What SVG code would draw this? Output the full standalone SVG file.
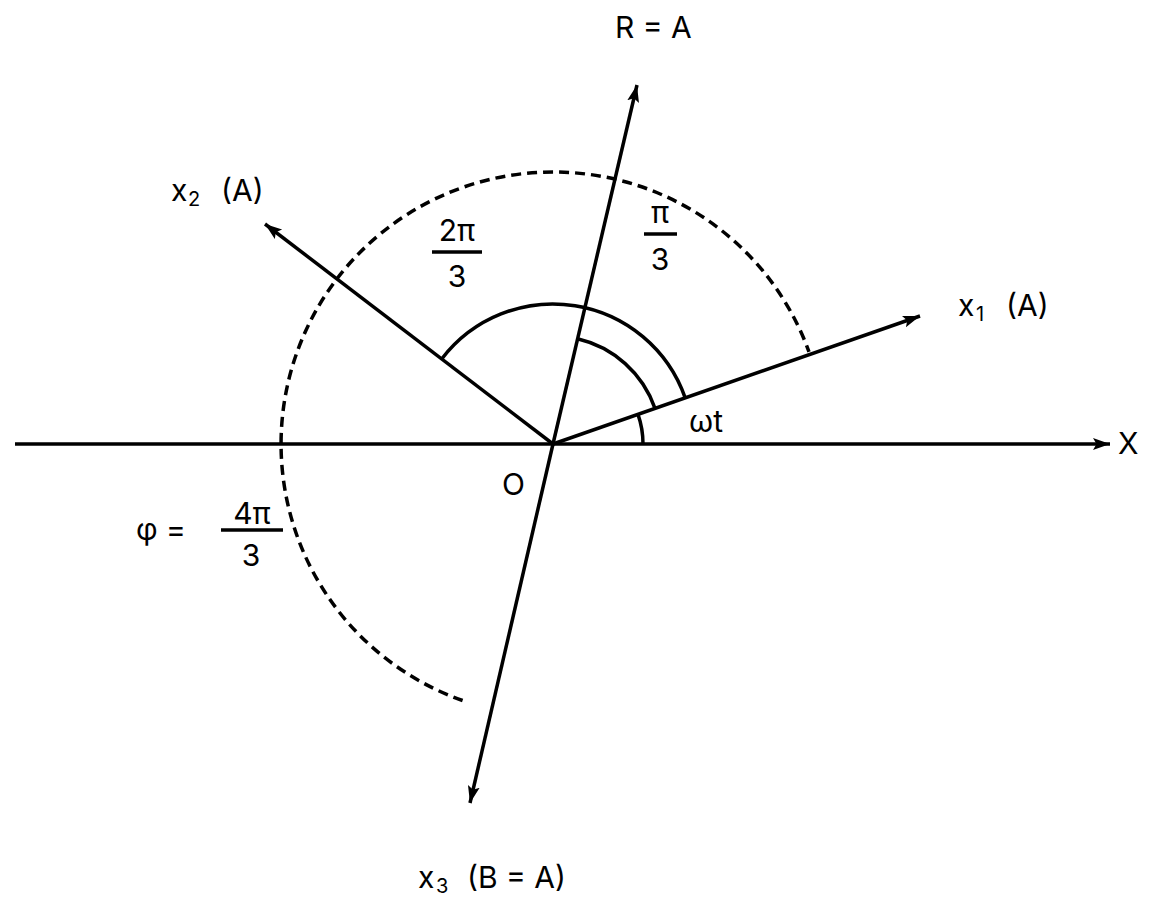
<svg xmlns="http://www.w3.org/2000/svg" width="1152" height="908" viewBox="0 0 1152 908">
<defs>
<marker id="arr" markerUnits="userSpaceOnUse" markerWidth="20" markerHeight="14" refX="17" refY="6" orient="auto">
<path d="M0,0 L17,6 L0,12 L3.5,6 z" fill="#000"/>
</marker>
<style>
.ln{stroke:#000;stroke-width:3.5;fill:none}
.ds{stroke:#000;stroke-width:3.5;fill:none;stroke-dasharray:10 6}
.bar{stroke:#000;stroke-width:3.5}
text{font-family:Inter,"Liberation Sans",sans-serif;font-size:30px;fill:#000}
.sub{font-size:20px}
.mid{text-anchor:middle}
</style>
</defs>
<rect width="1152" height="908" fill="#fff"/>
<g id="connectors">
<line class="ln" x1="15" y1="444" x2="1110" y2="444" marker-end="url(#arr)"/>
<line class="ln" x1="553" y1="444" x2="637" y2="85" marker-end="url(#arr)"/>
<line class="ln" x1="553" y1="444" x2="470" y2="803" marker-end="url(#arr)"/>
<line class="ln" x1="553" y1="444" x2="920" y2="316" marker-end="url(#arr)"/>
<line class="ln" x1="553" y1="444" x2="265" y2="224" marker-end="url(#arr)"/>
</g>
<g id="arcs">
<path class="ds" d="M462.6,700.5 A272,272 0 1 1 809,351.9"/>
<path class="ln" d="M441.7,359 A140,140 0 0 1 685.2,397.9"/>
<path class="ln" d="M577.5,338.8 A108,108 0 0 1 655,408.4"/>
<path class="ln" d="M638,414.4 A90,90 0 0 1 643,444"/>
</g>
<g id="label-R"><text x="615" y="38">R = A</text></g>
<g id="label-x2"><text x="171" y="201">x<tspan class="sub" x="188" dy="5">2</tspan><tspan x="221" dy="-5">(A)</tspan></text></g>
<g id="label-x1"><text x="958" y="316">x<tspan class="sub" x="976" dy="5">1</tspan><tspan x="1006" dy="-5">(A)</tspan></text></g>
<g id="label-x3"><text x="418" y="888">x<tspan class="sub" x="436" dy="5">3</tspan><tspan x="467" dy="-5">(B = A)</tspan></text></g>
<g id="label-wt"><text x="689" y="432">ωt</text></g>
<g id="label-O"><text x="502" y="495">O</text></g>
<g id="label-X"><text x="1118" y="454">X</text></g>
<g id="frac-2pi3">
<text class="mid" x="457" y="241">2π</text>
<line class="bar" x1="432" y1="252" x2="482" y2="252"/>
<text class="mid" x="457" y="287">3</text>
</g>
<g id="frac-pi3">
<text class="mid" x="660" y="223">π</text>
<line class="bar" x1="644" y1="234" x2="677" y2="234"/>
<text class="mid" x="660" y="270">3</text>
</g>
<g id="frac-4pi3">
<text x="136" y="540">φ =</text>
<text class="mid" x="252" y="524">4π</text>
<line class="bar" x1="221" y1="530" x2="283" y2="530"/>
<text class="mid" x="251" y="566">3</text>
</g>
</svg>
